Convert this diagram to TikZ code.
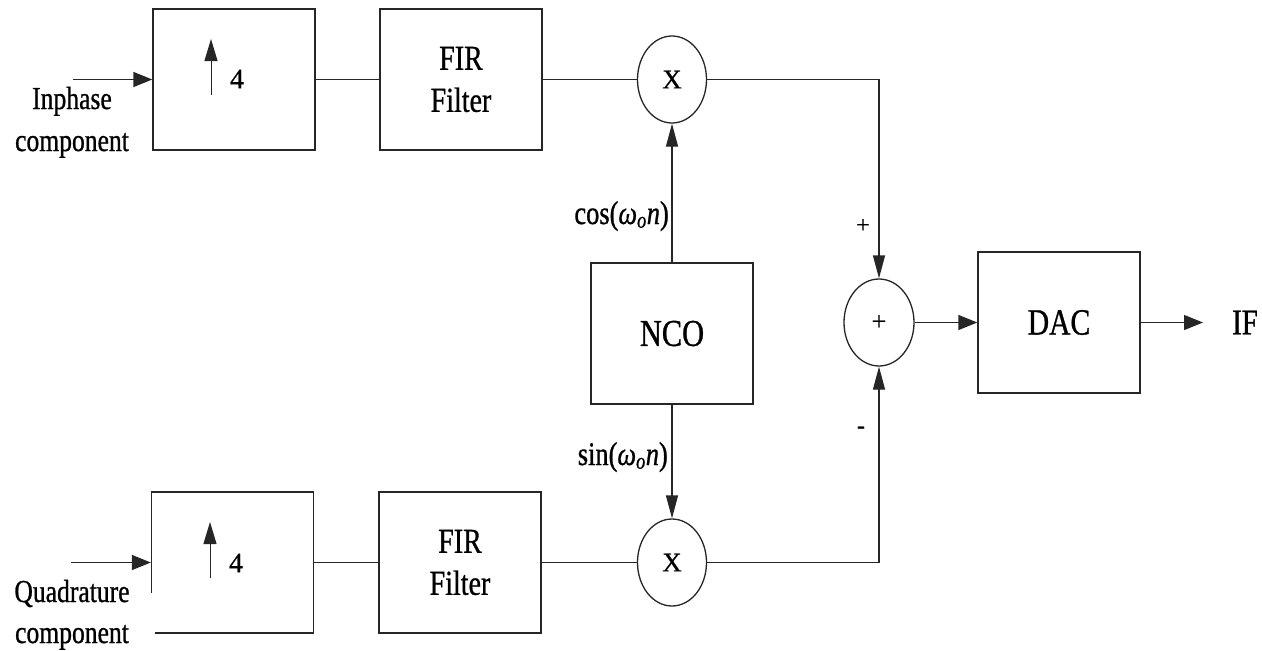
\documentclass[tikz,border=0pt]{standalone}
\usepackage{fontspec}
\setmainfont{Liberation Serif}[FakeStretch=0.8,FakeBold=0.8]
\newfontfamily\plainserif{Liberation Serif}[FakeBold=0.6]
\usetikzlibrary{shapes.geometric,arrows.meta}
\newcommand\fsz[1]{\fontsize{#1}{#1}\selectfont}
\begin{document}
\begin{tikzpicture}[x=1pt,y=-1pt,
  wire/.style={draw=black!85, line width=1.3pt},
  blk/.style={wire, rectangle, minimum width=162pt, minimum height=141pt, inner sep=0pt, align=center},
  mul/.style={wire, ellipse, minimum width=69pt, minimum height=87pt, inner sep=0pt, font=\plainserif\fsz{27}},
  harr/.style={wire, -{Triangle[length=19pt,width=15pt]}},
  varr/.style={wire, -{Triangle[length=23pt,width=12pt]}},
  uparr/.style={draw=black!85, line width=1pt, -{Triangle[length=22pt,width=13pt]}},
  sidelab/.style={anchor=base, inner sep=0pt, font=\fsz{32}},
  firtxt/.style={font=\fontsize{35}{42}\selectfont},
  sig/.style={anchor=base east, inner sep=0pt, font=\fsz{33}},
  sgn/.style={inner sep=0pt, font=\plainserif\fsz{24}},
  digit/.style={inner sep=0pt, font=\plainserif\fsz{28}}
]
\fill[white] (0,0) rectangle (1262,651);
\useasboundingbox (0,0) rectangle (1262,651);

% blocks
\node[blk] (up1) at (234,79.5) {};
\node[blk, firtxt] (fir1) at (461,79.5) {FIR\\Filter};
\node[mul] (m1) at (672,79.5) {X};
\node[blk, font=\fsz{38}] (nco) at (672,333.5) {NCO};
\node[mul] (m2) at (672,562.5) {X};
\node[blk] (up2) at (232.5,562.5) {};
\node[blk, firtxt] (fir2) at (460,562.5) {FIR\\Filter};
\node[mul, minimum width=70pt, font=\plainserif\fsz{26}] (sum) at (879,322.5) {+};
\node[blk, font=\fsz{37}] (dac) at (1059,322.5) {DAC};
\node[anchor=west, inner sep=0pt, font=\fsz{36}] (iflab) at (1232,322.5) {IF};

% upsampler symbols
\coordinate (u1a) at (211,95);
\coordinate (u1b) at (211,39);
\draw[uparr] (u1a) -- (u1b);
\node[digit] (four1) at (237,79) {4};
\coordinate (u2a) at (210,578);
\coordinate (u2b) at (210,522);
\draw[uparr] (u2a) -- (u2b);
\node[digit] (four2) at (236,563) {4};

% free ends
\coordinate (in1) at (73,79.5);
\coordinate (in2) at (71,562.5);
\coordinate (ifend) at (1203,322.5);

% connectors
\draw[harr] (in1) -- (up1.west);
\draw[harr] (in2) -- (up2.west);
\draw[wire] (up1) -- (fir1);
\draw[wire] (fir1) -- (m1);
\draw[wire] (up2) -- (fir2);
\draw[wire] (fir2) -- (m2);
\draw[varr] (nco.north) -- (m1.south);
\draw[varr] (nco.south) -- (m2.north);
\draw[varr] (m1.east) -| (sum.north);
\draw[varr] (m2.east) -| (sum.south);
\draw[harr] (sum.east) -- (dac.west);
\draw[harr] (dac.east) -- (ifend);

% labels
\node[sidelab] (l1a) at (72,109) {Inphase};
\node[sidelab] (l1b) at (72,151) {component};
\node[sidelab, fill=white, inner xsep=26pt, inner ysep=32pt] (l2b) at (72,643) {component};
\node[sidelab] (l2a) at (72,602) {Quadrature};
\node[sig] (coslab) at (669,224) {cos(\textit{ω}\textsubscript{\textit{o}}\textit{n})};
\node[sig] (sinlab) at (668,465) {sin(\textit{ω}\textsubscript{\textit{o}}\textit{n})};
\node[sgn] (plus) at (863,226) {+};
\node[sgn] (minus) at (861,430) {-};
\end{tikzpicture}
\end{document}
